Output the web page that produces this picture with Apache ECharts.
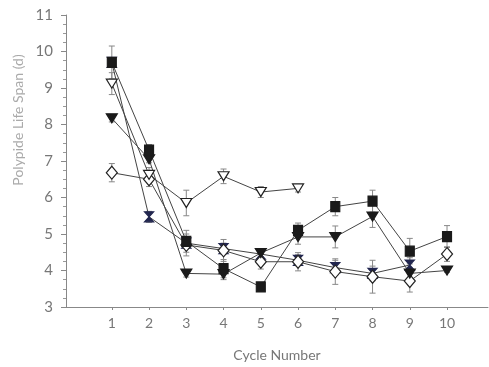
<!DOCTYPE html>
<html><head><meta charset="utf-8">
<script src="https://cdn.jsdelivr.net/npm/echarts@6/dist/echarts.min.js"></script>
<style>html,body{margin:0;padding:0;background:#fff}#c{width:489px;height:367px}</style>
</head><body><div id="c"></div>
<script>
const cycles = [1,2,3,4,5,6,7,8,9,10];
const yTicks = [3,4,5,6,7,8,9,10,11];
const squareVals   = [9.7, 7.3, 4.8, 4.05, 3.55, 5.1, 5.75, 5.9, 4.53, 4.93];
const squareErr    = [0.45, 0.15, 0.3, 0.25, 0.1, 0.2, 0.25, 0.3, 0.35, 0.3];
const openTriVals  = [9.12, 6.62, 5.85, 6.58, 6.15, 6.25, null, null, null, null];
const openTriErr   = [0.3, 0.2, 0.35, 0.2, 0.15, 0.1, null, null, null, null];
const filledTriVals= [8.17, 7.05, 3.92, 3.9, 4.48, 4.92, 4.92, 5.48, 3.92, 4.0];
const filledTriErr = [0.1, 0.1, 0.1, 0.15, 0.1, 0.2, 0.3, 0.3, 0.15, 0.05];
const diamondVals  = [6.68, 6.5, 4.7, 4.55, 4.24, 4.24, 3.97, 3.83, 3.71, 4.45];
const diamondErr   = [0.25, 0.2, 0.3, 0.3, 0.2, 0.25, 0.35, 0.45, 0.3, 0.2];
const bowtieVals   = [9.7, 5.47, 4.75, 4.6, 4.45, 4.28, 4.08, 3.92, 4.15, null];
const bowtieErr    = [0.1, 0.15, 0.15, 0.15, 0.15, 0.15, 0.2, 0.2, 0.2, null];

function pts(v){ return cycles.map((c,i)=> v[i]==null ? null : [c, v[i]]).filter(p=>p); }
function errPts(v,e){ return cycles.map((c,i)=> v[i]==null||e[i]==null ? null : [c, v[i], e[i]]).filter(p=>p); }

const bowPath = 'path://M0,0 L10,0 L0,10 L10,10 Z';
const defs = [
  {name:'bowtie', v:bowtieVals, e:bowtieErr, symbol:bowPath, size:[9,10], rot:0, fill:'#22264f', stroke:'#22264f'},
  {name:'diamond', v:diamondVals, e:diamondErr, symbol:'diamond', size:[11,13], rot:0, fill:'#fff', stroke:'#222'},
  {name:'openTri', v:openTriVals, e:openTriErr, symbol:'triangle', size:[11,9], rot:180, fill:'#fff', stroke:'#222'},
  {name:'filledTri', v:filledTriVals, e:filledTriErr, symbol:'triangle', size:[11,9], rot:180, fill:'#1a1a1a', stroke:'#1a1a1a'},
  {name:'square', v:squareVals, e:squareErr, symbol:'rect', size:[9,10], rot:0, fill:'#1a1a1a', stroke:'#1a1a1a'}
];

const series = [];
defs.forEach(d=>{
  series.push({type:'custom', name:d.name+'err', z:1, silent:true,
    data: errPts(d.v,d.e),
    renderItem:(params, api)=>{
      const x=api.value(0), y=api.value(1), e=api.value(2);
      const top=api.coord([x,y+e]), bot=api.coord([x,y-e]);
      const st={stroke:'#888', lineWidth:1};
      return {type:'group', children:[
        {type:'line', shape:{x1:top[0],y1:top[1],x2:bot[0],y2:bot[1]}, style:st},
        {type:'line', shape:{x1:top[0]-3,y1:top[1],x2:top[0]+3,y2:top[1]}, style:st},
        {type:'line', shape:{x1:bot[0]-3,y1:bot[1],x2:bot[0]+3,y2:bot[1]}, style:st}
      ]};
    }});
  series.push({type:'line', name:d.name+'line', z:2, showSymbol:false, silent:true,
    data: pts(d.v), lineStyle:{color:'#444', width:1}});
});
defs.forEach((d,k)=>{
  series.push({type:'scatter', name:d.name, z:3+k, data: pts(d.v), symbol:d.symbol,
    symbolSize:d.size, symbolRotate:d.rot,
    itemStyle:{color:d.fill, borderColor:d.stroke, borderWidth:1.2, opacity:1}});
});

const chart = echarts.init(document.getElementById('c'), null, {renderer:'canvas'});
chart.setOption({
  animation:false,
  backgroundColor:'#fff',
  grid:{left:66, right:1, top:15, bottom:60, containLabel:false},
  xAxis:{type:'value', min:-0.23, max:11.1,
    name:'Cycle Number', nameLocation:'middle', nameGap:41,
    nameTextStyle:{fontFamily:'Lato', fontSize:14, color:'#777'},
    axisLine:{onZero:false, lineStyle:{color:'#888', width:1}},
    axisTick:{show:true, customValues:cycles, length:3, lineStyle:{color:'#888'}},
    axisLabel:{customValues:cycles, fontFamily:'Lato', fontSize:14, color:'#777', margin:9},
    splitLine:{show:false}},
  yAxis:{type:'value', min:3, max:11, interval:1,
    axisLine:{show:true, onZero:false, lineStyle:{color:'#888', width:1}},
    axisTick:{show:true, length:5, lineStyle:{color:'#888'}},
    minorTick:{show:true, splitNumber:4, length:3, lineStyle:{color:'#999'}},
    axisLabel:{fontFamily:'Lato', fontSize:15, color:'#777', margin:13},
    splitLine:{show:false}},
  graphic:[{type:'text', x:18, y:120, rotation:Math.PI/2,
    style:{text:'Polypide Life Span (d)', fontFamily:'Lato', fontSize:14, fill:'#aaa',
      textAlign:'center', textVerticalAlign:'middle'}}],
  series: series
});
</script></body></html>
